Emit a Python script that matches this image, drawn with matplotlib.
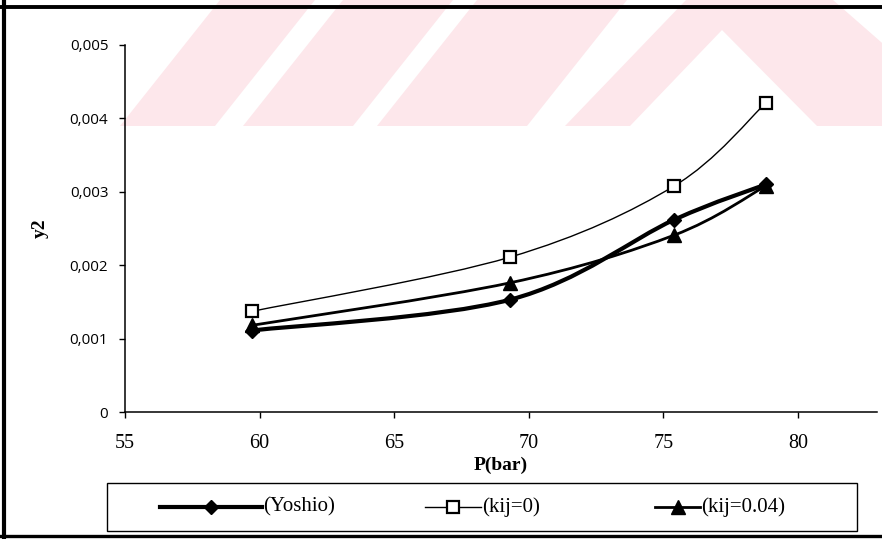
import numpy as np
import matplotlib
matplotlib.use("Agg")
import matplotlib.pyplot as plt
from matplotlib.path import Path
from matplotlib.patches import PathPatch, Polygon, Rectangle
from matplotlib.lines import Line2D

# ---------------- data ----------------
pressure = [59.7, 69.3, 75.4, 78.8]
y_yoshio = [0.00111, 0.00153, 0.00262, 0.00310]
y_kij0 = [0.00137, 0.00211, 0.00308, 0.00421]
y_kij004 = [0.00118, 0.00176, 0.00241, 0.00308]
series_labels = ["(Yoshio)", "(kij=0)", "(kij=0.04)"]
x_ticks = [55, 60, 65, 70, 75, 80]
y_ticks = [0, 0.001, 0.002, 0.003, 0.004, 0.005]
y_tick_labels = ["0", "0,001", "0,002", "0,003", "0,004", "0,005"]
x_label = "P(bar)"
y_label = "y2"

W, H = 882, 539
fig = plt.figure(figsize=(W / 100, H / 100), dpi=100)
fig.patch.set_facecolor("white")


def fx(x):
    return x / W


def fy(y):
    return 1 - y / H


# ---------------- watermark (scan background) ----------------
pink = "#fde7eb"
for a, b in [(120, 215), (243, 353), (377, 527)]:
    fig.patches.append(Polygon(
        [(fx(a), fy(126)), (fx(b), fy(126)), (fx(b + 100), fy(0)), (fx(a + 100), fy(0))],
        closed=True, transform=fig.transFigure, facecolor=pink, edgecolor="none", zorder=-3))
fig.patches.append(Polygon(
    [(fx(565), fy(126)), (fx(686), fy(0)), (fx(833), fy(0)), (fx(977), fy(126))],
    closed=True, transform=fig.transFigure, facecolor=pink, edgecolor="none", zorder=-3))
fig.patches.append(Polygon(
    [(fx(630), fy(126)), (fx(722), fy(30)), (fx(817), fy(126))],
    closed=True, transform=fig.transFigure, facecolor="white", edgecolor="none", zorder=-2))

# frame lines of the scanned page
fig.add_artist(Line2D([fx(4), fx(4)], [fy(0), fy(539)], transform=fig.transFigure,
                      color="black", lw=3.0, zorder=5))
fig.add_artist(Line2D([fx(0), fx(882)], [fy(7), fy(7)], transform=fig.transFigure,
                      color="black", lw=2.8, zorder=5))
fig.add_artist(Line2D([fx(0), fx(882)], [fy(535.5), fy(535.5)], transform=fig.transFigure,
                      color="black", lw=2.4, zorder=5))

# ---------------- axes ----------------
ax = fig.add_axes([fx(125), fy(412), (877 - 125) / W, (412 - 45) / H])
ax.set_zorder(1)
ax.patch.set_visible(False)
ax.set_xlim(55, 82.93)
ax.set_ylim(0, 0.005)
for s in ["top", "right"]:
    ax.spines[s].set_visible(False)
for s in ["left", "bottom"]:
    ax.spines[s].set_linewidth(1.1)
    ax.spines[s].set_color("black")

ax.set_xticks(x_ticks)
ax.set_xticklabels([str(t) for t in x_ticks], family="Liberation Serif", fontsize=14.5)
ax.set_yticks(y_ticks)
ax.set_yticklabels(y_tick_labels, family="Open Sans", fontsize=11)
ax.tick_params(axis="x", direction="out", length=4, width=1, pad=12)
ax.tick_params(axis="y", direction="out", length=4, width=1, pad=8)

fig.text(fx(501), fy(465), x_label, family="Liberation Serif", fontweight="bold",
         fontsize=14, ha="center", va="center")
fig.text(fx(40), fy(228), y_label, family="Liberation Serif", fontweight="bold",
         fontsize=14, rotation=90, ha="center", va="center")


def smooth_path(xs, ys):
    pts = np.column_stack([xs, ys]).astype(float)
    n = len(pts)
    verts = [pts[0]]
    codes = [Path.MOVETO]
    for i in range(n - 1):
        p0 = pts[i - 1] if i > 0 else pts[i]
        p1 = pts[i]
        p2 = pts[i + 1]
        p3 = pts[i + 2] if i + 2 < n else pts[i + 1]
        c1 = p1 + (p2 - p0) / 6.0
        c2 = p2 - (p3 - p1) / 6.0
        verts += [c1, c2, p2]
        codes += [Path.CURVE4] * 3
    return Path(verts, codes)


styles = [
    dict(y=y_yoshio, lw=3.0, marker="D", ms=7.5, mfc="black", mew=1.0),
    dict(y=y_kij0, lw=1.0, marker="s", ms=9, mfc="white", mew=1.6),
    dict(y=y_kij004, lw=2.0, marker="^", ms=10, mfc="black", mew=1.0),
]
for st in styles:
    ax.add_patch(PathPatch(smooth_path(pressure, st["y"]), facecolor="none",
                           edgecolor="black", lw=st["lw"], zorder=2, capstyle="round",
                           joinstyle="round"))
    ax.plot(pressure, st["y"], linestyle="none", marker=st["marker"], ms=st["ms"],
            mfc=st["mfc"], mec="black", mew=st["mew"], zorder=3, clip_on=False)

# ---------------- legend (manual, Excel-like) ----------------
fig.patches.append(Rectangle((fx(107), fy(531)), (857 - 107) / W, (531 - 483) / H,
                             transform=fig.transFigure, facecolor="white",
                             edgecolor="black", lw=1.0, zorder=2))
ly = fy(507)
entries = [
    (160, 262, 211, 0),
    (425, 481, 453, 1),
    (655, 700, 678, 2),
]
for x0, x1, xm, k in entries:
    st = styles[k]
    fig.add_artist(Line2D([fx(x0), fx(x1)], [ly, ly], transform=fig.transFigure,
                          color="black", lw=st["lw"], zorder=3))
    fig.add_artist(Line2D([fx(xm)], [ly], transform=fig.transFigure, linestyle="none",
                          marker=st["marker"], ms=st["ms"], mfc=st["mfc"], mec="black",
                          mew=st["mew"], zorder=4))
    fig.text(fx(x1 + 1), ly, series_labels[k], family="Liberation Serif", fontsize=15,
             ha="left", va="center", zorder=4)

fig.savefig("out.png", dpi=100)
